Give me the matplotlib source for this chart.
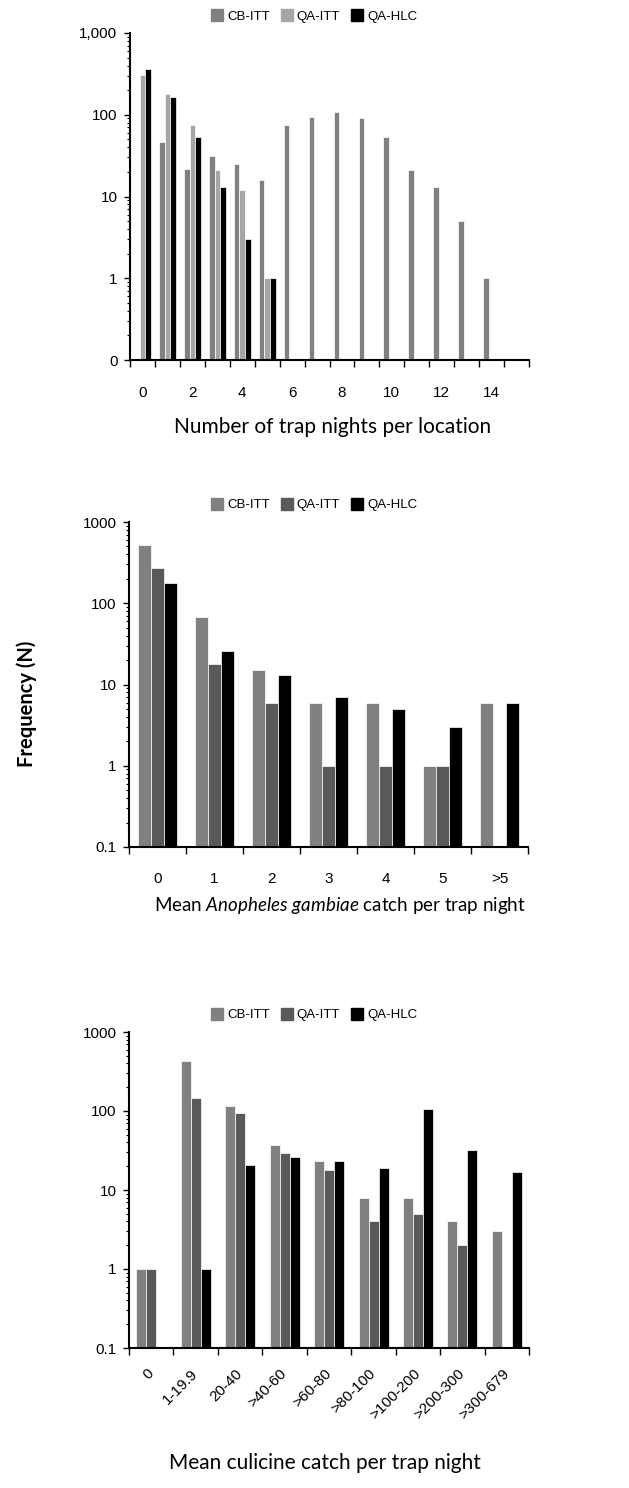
import matplotlib
matplotlib.use('Agg')
import matplotlib.pyplot as plt
from matplotlib.lines import Line2D
from matplotlib.ticker import LogLocator, NullFormatter
import numpy as np

# ─── Data ─────────────────────────────────────────────────────────────────────

series_names = ['CB-ITT', 'QA-ITT', 'QA-HLC']

nights_labels = ['0', '', '2', '', '4', '', '6', '', '8', '', '10', '', '12', '', '14', '']
nights_cb = [0, 47, 22, 31, 25, 16, 75, 95, 108, 90, 54, 21, 13, 5, 1, 0]
nights_qa_itt = [310, 180, 75, 21, 12, 1, 0, 0, 0, 0, 0, 0, 0, 0, 0, 0]
nights_qa_hlc = [360, 165, 54, 13, 3, 1, 0, 0, 0, 0, 0, 0, 0, 0, 0, 0]

gamb_labels = ['0', '1', '2', '3', '4', '5', '>5']
gamb_cb = [520, 67, 15, 6, 6, 1, 6]
gamb_qa_itt = [270, 18, 6, 1, 1, 1, 0]
gamb_qa_hlc = [178, 26, 13, 7, 5, 3, 6]

cul_labels = ['0', '1-19.9', '20-40', '>40-60', '>60-80', '>80-100',
              '>100-200', '>200-300', '>300-679']
cul_cb = [1, 430, 115, 37, 23, 8, 8, 4, 3]
cul_qa_itt = [1, 145, 95, 29, 18, 4, 5, 2, 0]
cul_qa_hlc = [0, 1, 21, 26, 23, 19, 105, 32, 17]

yticks = [0.1, 1, 10, 100, 1000]
ylabels_top = ['0', '1', '10', '100', '1,000']
ylabels_std = ['0.1', '1', '10', '100', '1000']

# ─── Style ────────────────────────────────────────────────────────────────────

TICK_FONT = ['Liberation Sans Narrow', 'Liberation Sans', 'DejaVu Sans']
LABEL_FONT = ['Lato', 'DejaVu Sans']
plt.rcParams.update({
    'mathtext.fontset': 'custom',
    'mathtext.rm': 'Lato',
    'mathtext.it': 'Lato:italic',
})

colors_top = ['#808080', '#a6a6a6', '#000000']
colors_std = ['#808080', '#595959', '#000000']

OFFSET = 0.165
WIDTH = 0.225


def draw_panel(ax, labels, series, colors, ylabs, rotate=False, label_pad=19):
    n = len(labels)
    x = np.arange(n)
    for k, (vals, c) in enumerate(zip(series, colors)):
        ax.bar(x + OFFSET + k * WIDTH, vals, width=WIDTH, align='edge',
               color=c, edgecolor='white', linewidth=0.5)
    ax.set_yscale('log')
    ax.set_ylim(0.1, 1000)
    ax.set_xlim(0, n)
    ax.set_yticks(yticks)
    ax.set_yticklabels(ylabs, fontfamily=TICK_FONT, fontsize=11)
    ax.yaxis.set_minor_locator(LogLocator(base=10, subs=np.arange(2, 10)))
    ax.yaxis.set_minor_formatter(NullFormatter())
    ax.tick_params(axis='y', which='major', direction='out', length=4, width=1, pad=5)
    ax.tick_params(axis='y', which='minor', direction='out', length=2.5, width=0.8)

    # category boundaries get tick marks, centres get the labels
    ax.set_xticks(np.arange(n + 1))
    ax.set_xticklabels([])
    ax.set_xticks(x + 0.5, minor=True)
    if rotate:
        ax.set_xticklabels(labels, minor=True, fontfamily=TICK_FONT, fontsize=11,
                           rotation=45, ha='right', va='center', rotation_mode='anchor')
    else:
        ax.set_xticklabels(labels, minor=True, fontfamily=TICK_FONT, fontsize=11)
    ax.tick_params(axis='x', which='major', direction='out', length=5, width=1)
    ax.tick_params(axis='x', which='minor', length=0, pad=label_pad)

    for s in ['top', 'right']:
        ax.spines[s].set_visible(False)
    for s in ['left', 'bottom']:
        ax.spines[s].set_linewidth(1.5)
    ax.grid(False)


def add_legend(fig, colors, y):
    handles = [Line2D([], [], marker='s', linestyle='none', markersize=8,
                      markerfacecolor=c, markeredgecolor=c) for c in colors]
    fig.legend(handles, series_names, loc='center', bbox_to_anchor=(0.5, y),
               ncol=3, frameon=False, handlelength=0.8, handletextpad=0.35,
               columnspacing=0.9, borderpad=0.2, prop={'family': TICK_FONT, 'size': 9.5})


fig = plt.figure(figsize=(6.29, 14.88), dpi=100)
W, H = 629, 1488

ax1 = fig.add_axes([130 / W, 1 - 360 / H, 399 / W, 327 / H])
draw_panel(ax1, nights_labels, [nights_cb, nights_qa_itt, nights_qa_hlc],
           colors_top, ylabels_top, label_pad=19)
add_legend(fig, colors_top, 1 - 17 / H)
fig.text(333 / W, 1 - 427 / H, 'Number of trap nights per location',
         ha='center', va='center', fontfamily=LABEL_FONT, fontsize=15)

ax2 = fig.add_axes([129 / W, 1 - 847 / H, 399 / W, 325 / H])
draw_panel(ax2, gamb_labels, [gamb_cb, gamb_qa_itt, gamb_qa_hlc],
           colors_std, ylabels_std, label_pad=18)
add_legend(fig, colors_std, 1 - 505 / H)
fig.text(340 / W, 1 - 906 / H, r'Mean $\mathit{Anopheles\ gambiae}$ catch per trap night',
         ha='center', va='center', fontfamily=LABEL_FONT, fontsize=13.5)

ax3 = fig.add_axes([129 / W, 1 - 1348 / H, 400 / W, 316 / H])
draw_panel(ax3, cul_labels, [cul_cb, cul_qa_itt, cul_qa_hlc],
           colors_std, ylabels_std, rotate=True, label_pad=17)
add_legend(fig, colors_std, 1 - 1015 / H)
fig.text(325 / W, 1 - 1463 / H, 'Mean culicine catch per trap night',
         ha='center', va='center', fontfamily=LABEL_FONT, fontsize=15)

fig.text(27 / W, 1 - 704 / H, 'Frequency (N)', rotation=90, ha='center', va='center',
         fontfamily=LABEL_FONT, fontsize=14.5, fontweight='bold')

fig.savefig('out.png', dpi=100)
